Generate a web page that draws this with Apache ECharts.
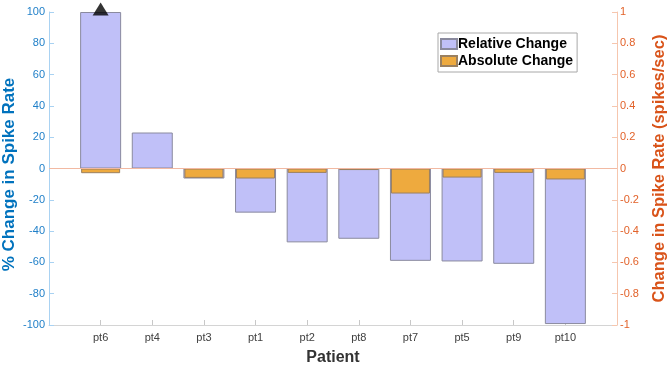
<!DOCTYPE html>
<html>
<head>
<meta charset="utf-8">
<script src="https://cdn.jsdelivr.net/npm/echarts@6/dist/echarts.min.js"></script>
<style>
  html, body { margin: 0; padding: 0; background: #fff; }
  #chart { width: 669px; height: 365px; }
</style>
</head>
<body>
<div id="chart"></div>
<script>
// patients in plot order (x positions 1..10)
var patients = ['pt6', 'pt4', 'pt3', 'pt1', 'pt2', 'pt8', 'pt7', 'pt5', 'pt9', 'pt10'];
// % change in spike rate (left axis)
var relChange = [100, 23, -6.4, -28.2, -47.2, -44.9, -59, -59.4, -60.9, -99.4];
// change in spike rate, spikes/sec (right axis)
var absChange = [-0.03, 0, -0.06, -0.064, -0.028, -0.01, -0.16, -0.058, -0.028, -0.07];
// value clipped at the top of the axis
var clippedAt = [[1, 100]];
var leftTicks = { min: -100, max: 100, step: 20 };
var rightTicks = { min: -1, max: 1, step: 0.2 };

var blueCol = '#0072BD', orangeCol = '#D95319';
var font = 'Liberation Sans, Arial, sans-serif';
var positions = patients.map(function (p, i) { return i + 1; });

function xAx(show) {
  return {
    type: 'value', min: 0, max: patients.length + 1, show: show,
    axisLine: { show: true, onZero: false, lineStyle: { color: '#d4d4d4', width: 1 } },
    axisTick: { show: true, inside: true, length: 5, customValues: positions, lineStyle: { color: '#c8c8c8' } },
    axisLabel: {
      customValues: positions, margin: 7, color: '#404040', fontSize: 11, fontFamily: font,
      formatter: function (v) { return patients[v - 1] || ''; }
    },
    splitLine: { show: false },
    name: show ? 'Patient' : '', nameLocation: 'middle', nameGap: 25, nameMoveOverlap: false,
    nameTextStyle: { color: '#333', fontSize: 16, fontWeight: 'bold', fontFamily: font }
  };
}

var chart = echarts.init(document.getElementById('chart'), null, { renderer: 'canvas' });
chart.setOption({
  animation: false,
  backgroundColor: '#fff',
  grid: { left: 49, right: 52, top: 12, bottom: 40, containLabel: false, outerBoundsMode: 'none' },
  legend: {
    orient: 'vertical', left: 438, top: 33,
    itemWidth: 16, itemHeight: 10, itemGap: 3, icon: 'rect',
    padding: [4, 4, 4, 2],
    borderColor: '#a8a8a8', borderWidth: 1, backgroundColor: '#fff',
    textStyle: { color: '#000', fontSize: 14, fontWeight: 'bold', fontFamily: font, padding: [0, 0, 0, -4] },
    data: ['Relative Change', 'Absolute Change']
  },
  xAxis: [xAx(true), xAx(false)],
  yAxis: [{
    type: 'value', min: leftTicks.min, max: leftTicks.max, interval: leftTicks.step,
    position: 'left',
    axisLine: { show: true, onZero: false, lineStyle: { color: '#a9d2f2' } },
    axisTick: { show: true, inside: true, length: 5, lineStyle: { color: '#a9d2f2' } },
    axisLabel: { color: '#1f7fc8', fontSize: 11, fontFamily: font, margin: 4 },
    splitLine: { show: false },
    name: '% Change in Spike Rate', nameLocation: 'middle', nameGap: 31, nameRotate: 90,
    nameMoveOverlap: false,
    nameTextStyle: { color: blueCol, fontSize: 17, fontWeight: 'bold', fontFamily: font, padding: [0, 12, 0, 0] }
  }, {
    type: 'value', min: rightTicks.min, max: rightTicks.max, interval: rightTicks.step,
    position: 'right',
    axisLine: { show: true, onZero: false, lineStyle: { color: '#f6c6ae' } },
    axisTick: { show: true, inside: true, length: 5, lineStyle: { color: '#f6c6ae' } },
    axisLabel: { color: '#e2622a', fontSize: 11, fontFamily: font, margin: 3 },
    splitLine: { show: false },
    name: 'Change in Spike Rate (spikes/sec)', nameLocation: 'middle', nameGap: 34, nameRotate: 90,
    nameMoveOverlap: false,
    nameTextStyle: { color: orangeCol, fontSize: 16.5, fontWeight: 'bold', fontFamily: font }
  }],
  series: [{
    name: 'Relative Change', type: 'bar', xAxisIndex: 0, yAxisIndex: 0,
    barWidth: 41, z: 2,
    itemStyle: { color: '#c0c0f8', borderColor: '#8a8a9e', borderWidth: 1 },
    data: relChange.map(function (v, i) { return [i + 1, v]; }),
    markLine: {
      silent: true, symbol: 'none', label: { show: false },
      lineStyle: { color: '#f2b9a2', type: 'solid', width: 1 },
      data: [{ yAxis: 0 }]
    }
  }, {
    name: 'Absolute Change', type: 'bar', xAxisIndex: 1, yAxisIndex: 1,
    barWidth: 39, z: 3,
    itemStyle: { color: '#eeaa3e', borderColor: '#9a8060', borderWidth: 1 },
    data: absChange.map(function (v, i) { return [i + 1, v]; })
  }, {
    type: 'scatter', xAxisIndex: 0, yAxisIndex: 0, clip: false, z: 5,
    symbol: 'triangle', symbolSize: [16, 13], symbolOffset: [0, -3],
    itemStyle: { color: '#000' },
    data: clippedAt
  }]
});
</script>
</body>
</html>
